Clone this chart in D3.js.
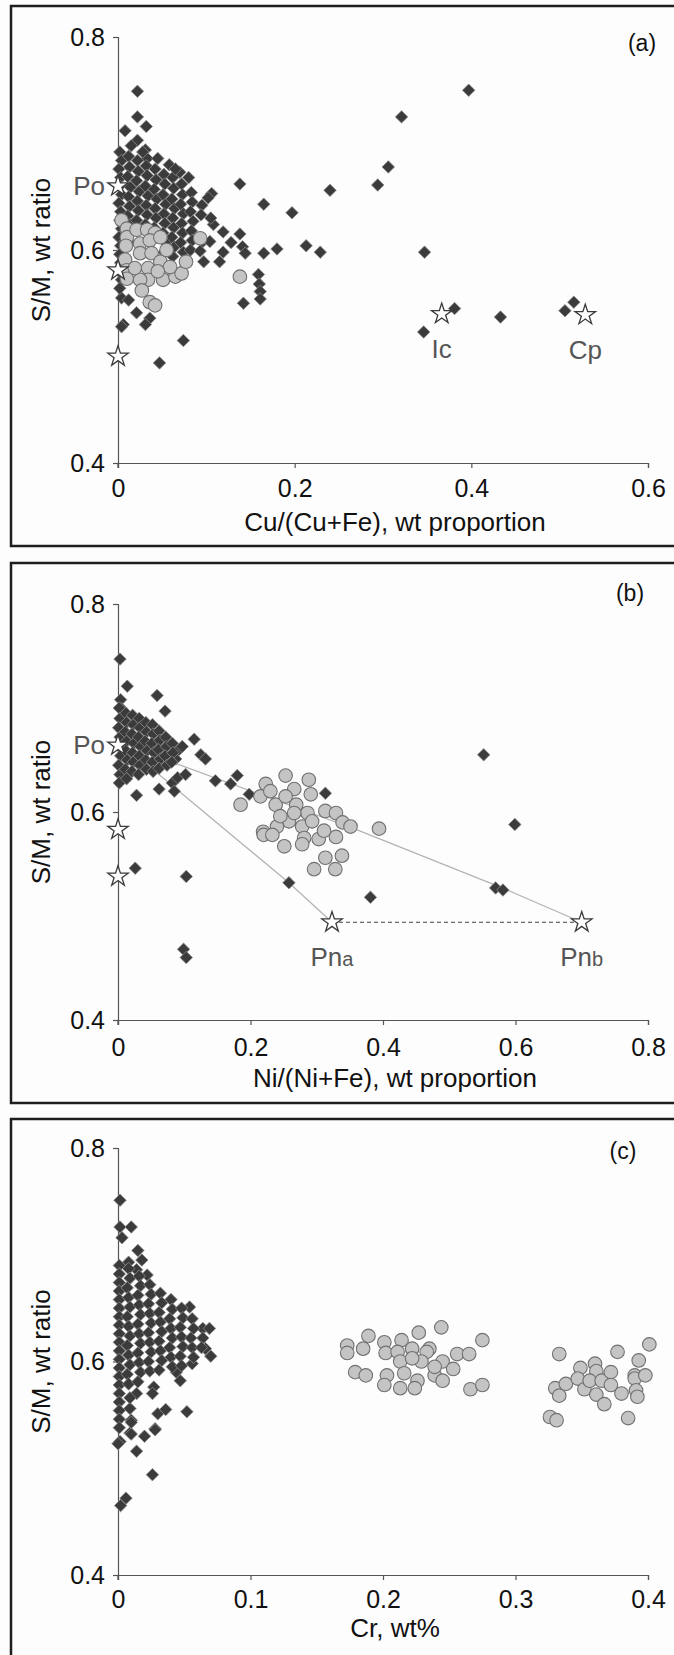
<!DOCTYPE html>
<html><head><meta charset="utf-8">
<script src="https://cdn.jsdelivr.net/npm/d3@7"></script>
<style>
body{margin:0;background:#fdfdfd}
svg{display:block}
text{font-family:"Liberation Sans",Arial,Helvetica,sans-serif}
</style>
</head><body>
<svg id="chart" width="674" height="1655"></svg>
<script>
// ---------------- DATA ----------------
const yTickValues = [0.4, 0.6, 0.8];
const yTickLabels = ["0.4", "0.6", "0.8"];
const xTicksA = [0, 0.2, 0.4, 0.6];
const xTickLabelsA = ["0", "0.2", "0.4", "0.6"];
const xTicksB = [0, 0.2, 0.4, 0.6, 0.8];
const xTickLabelsB = ["0", "0.2", "0.4", "0.6", "0.8"];
const xTicksC = [0, 0.1, 0.2, 0.3, 0.4];
const xTickLabelsC = ["0", "0.1", "0.2", "0.3", "0.4"];

const panelLetters = ["(a)", "(b)", "(c)"];
const xTitles = ["Cu/(Cu+Fe), wt proportion", "Ni/(Ni+Fe), wt proportion", "Cr, wt%"];
const yTitle = "S/M, wt ratio";

// Panel (a): Cu/(Cu+Fe) vs S/M
const diamondsA = [
[0.022,0.749],[0.397,0.750],[0.321,0.725],[0.306,0.678],[0.294,0.661],[0.240,0.656],[0.197,0.635],[0.165,0.643],
[0.138,0.662],[0.347,0.598],[0.213,0.604],[0.229,0.598],[0.180,0.601],[0.165,0.597],[0.381,0.545],[0.346,0.523],
[0.433,0.537],[0.506,0.543],[0.516,0.551],[0.074,0.515],[0.047,0.494],[0.142,0.550],[0.159,0.577],[0.160,0.568],
[0.161,0.561],[0.161,0.554],[0.022,0.725],[0.032,0.716],[0.008,0.712],[0.022,0.703],[0.031,0.694],[0.033,0.686],
[0.106,0.653],[0.102,0.649],[0.080,0.668],[0.070,0.673],[0.108,0.624],[0.119,0.617],[0.128,0.607],[0.119,0.598],
[0.115,0.589],[0.097,0.589],[0.138,0.615],[0.141,0.603],[0.144,0.597],
[0.004,0.555],[0.012,0.553],[0.021,0.541],[0.036,0.536],[0.031,0.530],[0.006,0.530],[0.004,0.528],
[0.002,0.692],[0.004,0.684],[0.001,0.676],[0.003,0.668],[0.002,0.660],[0.004,0.652],[0.001,0.644],[0.003,0.636],
[0.002,0.628],[0.004,0.620],[0.001,0.612],[0.003,0.604],[0.002,0.596],[0.003,0.588],[0.001,0.580],[0.004,0.572],[0.002,0.564],
[0.012,0.688],[0.013,0.678],[0.011,0.669],[0.014,0.659],[0.012,0.650],[0.013,0.641],[0.011,0.632],[0.014,0.624],[0.012,0.608],
[0.022,0.684],[0.023,0.674],[0.021,0.665],[0.024,0.655],[0.022,0.646],[0.023,0.637],[0.021,0.628],
[0.032,0.679],[0.033,0.670],[0.031,0.660],[0.034,0.651],[0.032,0.642],[0.033,0.633],[0.031,0.624],
[0.042,0.676],[0.043,0.666],[0.041,0.657],[0.044,0.648],[0.042,0.639],[0.043,0.630],[0.041,0.621],[0.044,0.612],
[0.052,0.671],[0.053,0.662],[0.051,0.652],[0.054,0.643],[0.052,0.634],[0.053,0.625],[0.051,0.616],[0.054,0.607],[0.052,0.598],
[0.062,0.668],[0.063,0.658],[0.061,0.648],[0.064,0.639],[0.062,0.630],[0.063,0.621],[0.061,0.612],[0.064,0.603],[0.062,0.594],
[0.072,0.662],[0.073,0.652],[0.071,0.643],[0.074,0.634],[0.072,0.625],[0.073,0.616],[0.071,0.607],[0.074,0.598],
[0.083,0.654],[0.084,0.645],[0.082,0.636],[0.085,0.627],[0.083,0.618],[0.084,0.609],[0.082,0.600],
[0.095,0.642],[0.094,0.633],[0.096,0.608],[0.093,0.599],[0.105,0.630],[0.104,0.608],
[0.015,0.698],[0.028,0.692],[0.045,0.686],[0.058,0.680],[0.065,0.676]
];
const circlesA = [
[0.004,0.628],[0.010,0.620],[0.010,0.612],[0.009,0.604],[0.021,0.619],[0.033,0.619],[0.042,0.616],[0.025,0.606],
[0.036,0.609],[0.048,0.612],[0.093,0.611],[0.008,0.591],[0.010,0.581],[0.010,0.573],[0.025,0.597],[0.038,0.597],
[0.034,0.583],[0.034,0.572],[0.025,0.572],[0.051,0.572],[0.065,0.575],[0.072,0.578],[0.077,0.589],[0.048,0.589],
[0.027,0.562],[0.036,0.551],[0.042,0.548],[0.138,0.575],[0.059,0.584],[0.019,0.583],[0.055,0.600],[0.045,0.580]
];
const starsA = [[0,0.660],[0,0.581],[0,0.500],[0.3665,0.540],[0.529,0.539]];
const starLabelsA = [{t:"Po",x:0,y:0.660},{t:"Ic",x:0.3665,y:0.540},{t:"Cp",x:0.529,y:0.539}];

// Panel (b): Ni/(Ni+Fe) vs S/M
const diamondsB = [
[0.003,0.747],[0.014,0.721],[0.004,0.708],[0.059,0.712],[0.071,0.697],[0.006,0.699],[0.115,0.670],[0.125,0.655],
[0.132,0.651],[0.092,0.660],[0.097,0.663],[0.087,0.651],[0.147,0.630],[0.170,0.627],[0.180,0.635],[0.198,0.617],
[0.313,0.618],[0.082,0.628],[0.090,0.633],[0.102,0.636],[0.085,0.620],[0.062,0.622],[0.028,0.616],[0.552,0.655],
[0.599,0.588],[0.026,0.546],[0.103,0.538],[0.258,0.532],[0.381,0.518],[0.570,0.527],[0.581,0.525],[0.099,0.468],[0.103,0.460],
[0.002,0.700],[0.003,0.690],[0.001,0.681],[0.003,0.672],[0.002,0.663],[0.004,0.654],[0.001,0.645],[0.003,0.636],[0.002,0.628],
[0.012,0.695],[0.013,0.686],[0.011,0.677],[0.013,0.668],[0.012,0.659],[0.014,0.650],[0.011,0.641],[0.013,0.632],
[0.022,0.693],[0.023,0.684],[0.021,0.675],[0.024,0.666],[0.022,0.657],[0.023,0.648],[0.021,0.639],
[0.032,0.690],[0.033,0.681],[0.031,0.672],[0.034,0.663],[0.032,0.654],[0.033,0.645],[0.031,0.636],
[0.042,0.686],[0.043,0.677],[0.041,0.668],[0.044,0.659],[0.042,0.650],[0.043,0.641],
[0.052,0.684],[0.053,0.675],[0.051,0.666],[0.054,0.657],[0.052,0.648],[0.053,0.639],
[0.062,0.678],[0.063,0.669],[0.061,0.660],[0.064,0.651],[0.062,0.642],
[0.072,0.672],[0.073,0.663],[0.071,0.654],[0.074,0.645],
[0.082,0.666],[0.083,0.657],[0.081,0.648]
];
const circlesB = [
[0.253,0.635],[0.288,0.631],[0.223,0.627],[0.266,0.622],[0.291,0.617],[0.215,0.615],[0.238,0.607],[0.269,0.607],
[0.286,0.599],[0.313,0.601],[0.329,0.599],[0.185,0.607],[0.258,0.591],[0.240,0.586],[0.278,0.586],[0.293,0.591],
[0.339,0.590],[0.351,0.586],[0.394,0.584],[0.219,0.581],[0.220,0.578],[0.233,0.578],[0.281,0.575],[0.303,0.574],
[0.329,0.576],[0.251,0.567],[0.278,0.569],[0.311,0.582],[0.313,0.556],[0.338,0.558],[0.296,0.545],[0.328,0.545],
[0.266,0.599],[0.253,0.615],[0.230,0.620],[0.245,0.596]
];
const starsB = [[0,0.664],[0,0.583],[0,0.538],[0.323,0.494],[0.700,0.494]];
const starLabelsB = [{t:"Po",x:0,y:0.664},{t:"Pn",sub:"a",x:0.323,y:0.494},{t:"Pn",sub:"b",x:0.700,y:0.494}];
const mixLineUpper = [[0.060,0.653],[0.360,0.583],[0.580,0.527],[0.700,0.494]];
const mixLineLower = [[0.060,0.637],[0.258,0.532],[0.323,0.494]];
const tieLinePn = [[0.323,0.494],[0.700,0.494]];

// Panel (c): Cr vs S/M
const diamondsC = [
[0.0015,0.751],[0.0015,0.726],[0.010,0.726],[0.003,0.716],[0.015,0.704],[0.008,0.693],[0.018,0.695],[0.014,0.686],
[0.022,0.681],[0.054,0.651],[0.064,0.631],[0.069,0.631],[0.066,0.612],[0.070,0.605],[0.056,0.598],[0.044,0.590],
[0.047,0.582],[0.027,0.576],[0.026,0.570],[0.014,0.570],[0.009,0.556],[0.010,0.545],[0.009,0.533],[0.0015,0.525],
[0.030,0.551],[0.036,0.555],[0.052,0.553],[0.028,0.537],[0.020,0.530],[0.014,0.516],[0.026,0.494],[0.002,0.465],
[0.006,0.472],[0.000,0.523],[0.010,0.532],[0.028,0.536],[0.010,0.543],
[0.001,0.690],[0.001,0.682],[0.001,0.674],[0.001,0.666],[0.001,0.658],[0.001,0.650],[0.001,0.642],[0.001,0.634],
[0.001,0.626],[0.001,0.618],[0.001,0.610],[0.001,0.602],[0.001,0.594],[0.001,0.586],[0.001,0.578],[0.001,0.570],
[0.001,0.562],[0.001,0.554],[0.001,0.546],[0.001,0.538],
[0.008,0.687],[0.009,0.678],[0.007,0.669],[0.008,0.660],[0.009,0.651],[0.007,0.642],[0.008,0.633],[0.009,0.624],
[0.007,0.615],[0.008,0.606],[0.009,0.597],[0.007,0.588],[0.008,0.579],[0.009,0.566],
[0.016,0.680],[0.017,0.671],[0.015,0.662],[0.016,0.653],[0.017,0.644],[0.015,0.635],[0.016,0.626],[0.017,0.617],
[0.015,0.608],[0.016,0.599],[0.017,0.590],[0.015,0.581],
[0.024,0.672],[0.025,0.663],[0.023,0.654],[0.024,0.645],[0.025,0.636],[0.023,0.627],[0.024,0.618],[0.025,0.609],
[0.023,0.600],[0.024,0.591],
[0.032,0.664],[0.033,0.655],[0.031,0.646],[0.032,0.637],[0.033,0.628],[0.031,0.619],[0.032,0.610],[0.033,0.601],[0.031,0.592],
[0.040,0.658],[0.041,0.649],[0.039,0.640],[0.040,0.631],[0.041,0.622],[0.039,0.613],[0.040,0.604],[0.041,0.595],
[0.048,0.650],[0.049,0.641],[0.047,0.632],[0.048,0.623],[0.049,0.614],[0.047,0.605],[0.048,0.596],
[0.056,0.640],[0.057,0.631],[0.055,0.622],[0.056,0.613],[0.057,0.604],
[0.064,0.622],[0.063,0.613]
];
const circlesC = [
[0.173,0.615],[0.173,0.608],[0.185,0.612],[0.189,0.624],[0.179,0.590],[0.187,0.587],[0.201,0.618],[0.214,0.620],
[0.227,0.627],[0.244,0.632],[0.275,0.620],[0.202,0.608],[0.211,0.609],[0.222,0.612],[0.235,0.612],[0.233,0.609],
[0.213,0.600],[0.229,0.600],[0.245,0.600],[0.256,0.607],[0.265,0.607],[0.253,0.593],[0.239,0.587],[0.245,0.582],
[0.226,0.582],[0.216,0.589],[0.203,0.587],[0.201,0.578],[0.213,0.575],[0.224,0.575],[0.266,0.574],[0.275,0.578],
[0.239,0.595],[0.222,0.603],
[0.333,0.607],[0.330,0.575],[0.333,0.568],[0.338,0.579],[0.326,0.548],[0.331,0.545],[0.349,0.594],[0.347,0.584],
[0.352,0.574],[0.360,0.598],[0.361,0.591],[0.356,0.582],[0.365,0.582],[0.361,0.569],[0.367,0.560],[0.372,0.590],
[0.372,0.578],[0.377,0.609],[0.380,0.570],[0.385,0.547],[0.390,0.587],[0.390,0.584],[0.393,0.601],[0.391,0.573],
[0.392,0.567],[0.398,0.587],[0.401,0.616]
];
const starsC = [];

// ---------------- LAYOUT / STYLE ----------------
const AX_LEFT = 118, AX_RIGHT = 648;
const panels = [
  {top:6,   y08:37,   y04:463,  xMax:0.6, ticks:xTicksA, tickLabels:xTickLabelsA, title:xTitles[0], letter:panelLetters[0],
   letterPos:[642,51], tickPad:11, titleDy:68,
   diamonds:diamondsA, circles:circlesA, stars:starsA, labels:starLabelsA},
  {top:563, y08:604,  y04:1020, xMax:0.8, ticks:xTicksB, tickLabels:xTickLabelsB, title:xTitles[1], letter:panelLetters[1],
   letterPos:[630,601], tickPad:13, titleDy:67,
   diamonds:diamondsB, circles:circlesB, stars:starsB, labels:starLabelsB,
   lines:[mixLineUpper, mixLineLower], dashed:tieLinePn},
  {top:1119,y08:1148, y04:1575, xMax:0.4, ticks:xTicksC, tickLabels:xTickLabelsC, title:xTitles[2], letter:panelLetters[2],
   letterPos:[623,1159], tickPad:10, titleDy:62,
   diamonds:diamondsC, circles:circlesC, stars:starsC}
];

const svg = d3.select("#chart");
svg.append("rect").attr("width",674).attr("height",1655).attr("fill","#fdfdfd");

const diamondType = {draw(ctx, size){ const r = Math.sqrt(size/2);
  ctx.moveTo(0,-r); ctx.lineTo(r,0); ctx.lineTo(0,r); ctx.lineTo(-r,0); ctx.closePath(); }};
const diamondPath = d3.symbol().type(diamondType).size(78)();
const starPath = d3.symbol().type(d3.symbolStar).size(130)();

panels.forEach((p, i) => {
  const g = svg.append("g");
  g.append("rect").attr("x",11).attr("y",p.top).attr("width",700).attr("height", i===2 ? 600 : 540)
    .attr("fill","none").attr("stroke","#1e1e1e").attr("stroke-width",2.5);

  const x = d3.scaleLinear().domain([0,p.xMax]).range([AX_LEFT,AX_RIGHT]);
  const y = d3.scaleLinear().domain([0.4,0.8]).range([p.y04,p.y08]);

  const yAxis = d3.axisLeft(y).tickValues(yTickValues).tickSize(5).tickPadding(8)
      .tickFormat((d,k)=>yTickLabels[k]);
  const gy = g.append("g").attr("transform",`translate(${AX_LEFT},0)`).call(yAxis);
  const xAxis = d3.axisBottom(x).tickValues(p.ticks).tickSize(5).tickPadding(p.tickPad)
      .tickFormat((d,k)=>p.tickLabels[k]);
  const gx = g.append("g").attr("transform",`translate(0,${p.y04})`).call(xAxis);
  [gx,gy].forEach(a=>{
    a.select(".domain").attr("stroke","#555").attr("stroke-width",1.2);
    a.selectAll(".tick line").attr("stroke","#555").attr("stroke-width",1.2);
    a.selectAll(".tick text").attr("fill","#111").attr("font-size",25)
      .attr("font-family",'"Liberation Sans",Arial,sans-serif');
  });
  g.append("line").attr("x1",AX_LEFT).attr("x2",AX_LEFT).attr("y1",p.y04).attr("y2",p.y04+5)
    .attr("stroke","#555").attr("stroke-width",1.2);

  g.append("text").attr("x",395).attr("y",p.y04+p.titleDy).attr("text-anchor","middle")
    .attr("font-size",26).attr("fill","#111").text(p.title);
  g.append("text").attr("transform",`translate(50,${y(0.6)}) rotate(-90)`).attr("text-anchor","middle")
    .attr("font-size",26).attr("fill","#111").text(yTitle);
  g.append("text").attr("x",p.letterPos[0]).attr("y",p.letterPos[1]).attr("text-anchor","middle")
    .attr("font-size",23).attr("fill","#111").text(p.letter);

  if (p.lines) {
    const line = d3.line().x(d=>x(d[0])).y(d=>y(d[1]));
    p.lines.forEach(l => g.append("path").attr("d",line(l)).attr("fill","none")
      .attr("stroke","#b4b4b4").attr("stroke-width",1.3));
    g.append("path").attr("d",line(p.dashed)).attr("fill","none")
      .attr("stroke","#444").attr("stroke-width",1.2).attr("stroke-dasharray","4,3");
  }

  g.append("g").selectAll("path").data(p.diamonds).join("path")
    .attr("d",diamondPath).attr("transform",d=>`translate(${x(d[0])},${y(d[1])})`)
    .attr("fill","#3b3b3b").attr("stroke","#8c8c8c").attr("stroke-width",0.8);
  g.append("g").selectAll("circle").data(p.circles).join("circle")
    .attr("cx",d=>x(d[0])).attr("cy",d=>y(d[1])).attr("r",6.8)
    .attr("fill","#c4c4c4").attr("stroke","#707070").attr("stroke-width",1.1);
  g.append("g").selectAll("path").data(p.stars).join("path")
    .attr("d",starPath).attr("transform",d=>`translate(${x(d[0])},${y(d[1])})`)
    .attr("fill","#fff").attr("stroke","#3a3a3a").attr("stroke-width",1.3);
  (p.labels||[]).forEach(l => {
    const onAxis = l.x === 0;
    const t = g.append("text").attr("font-size",26).attr("fill","#555")
      .attr("x", onAxis ? x(l.x)-13 : x(l.x))
      .attr("y", onAxis ? y(l.y)+9 : y(l.y)+44)
      .attr("text-anchor", onAxis ? "end" : "middle")
      .text(l.t);
    if (l.sub) t.append("tspan").attr("font-size",20).text(l.sub);
  });
});
</script>
</body></html>
